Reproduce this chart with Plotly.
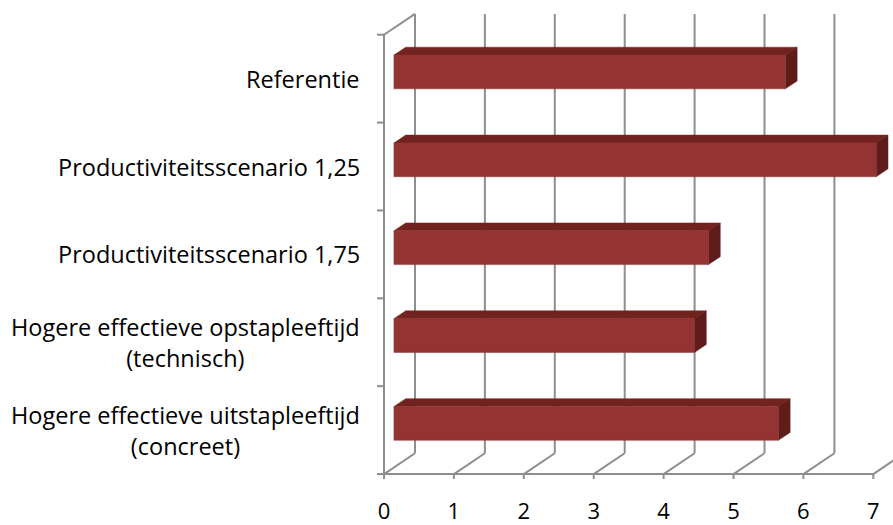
import plotly.graph_objects as go

# ---- data ----
categories = [
    "Referentie",
    "Productiviteitsscenario 1,25",
    "Productiviteitsscenario 1,75",
    "Hogere effectieve opstapleeftijd<br>(technisch)",
    "Hogere effectieve uitstapleeftijd<br>(concreet)",
]
values = [5.6, 6.9, 4.5, 4.3, 5.5]
x_ticks = [0, 1, 2, 3, 4, 5, 6, 7]

# ---- geometry / style ----
W, H = 893, 525
PX_X, PX_Y = 69.9, 88.6          # pixels per unit
L, R, T, B = 370, 0, 0, 40
X_ZERO_PX, Y_ZERO_PX = 384, 478
x_lo = -(X_ZERO_PX - L) / PX_X
x_hi = x_lo + (W - L - R) / PX_X
y_lo = -((H - B) - Y_ZERO_PX) / PX_Y
y_hi = y_lo + (H - B - T) / PX_Y

DX, DY = 31 / PX_X, 21 / PX_Y     # full depth offset
F1, F2 = 0.32, 0.70               # bar front/back depth fraction
BAR_H = 34 / PX_Y
N = len(categories)

GRID = "#8e8e8e"
FRONT = "#943432"
TOP = "#73231f"
SIDE = "#5e1c1a"
FONT = "Open Sans"
LABEL_RIGHT = (362 - L) / (W - L - R)   # paper x of label block right edge

fig = go.Figure()


def line(xs, ys, color=GRID, width=2):
    fig.add_trace(go.Scatter(x=xs, y=ys, mode="lines",
                             line=dict(color=color, width=width),
                             hoverinfo="skip", showlegend=False))


def poly(xs, ys, color):
    fig.add_trace(go.Scatter(x=xs + [xs[0]], y=ys + [ys[0]], mode="lines",
                             fill="toself", fillcolor=color,
                             line=dict(color=color, width=0.5),
                             hoverinfo="skip", showlegend=False))


# back wall gridlines
for k in x_ticks:
    line([k + DX, k + DX], [DY, N + DY])
# floor diagonals
for k in x_ticks:
    line([k, k + DX], [0, DY])
# floor front edge
line([x_ticks[0], x_ticks[-1]], [0, 0])
# bottom tick marks
for k in x_ticks:
    line([k, k], [0, -5 / PX_Y])
# left wall front edge + top diagonal
line([0, 0], [0, N])
line([0, DX], [N, N + DY])
# left tick marks at category boundaries
for i in range(N + 1):
    line([0, -7 / PX_X], [i, i])

# bars
for i, (cat, v) in enumerate(zip(categories, values)):
    yc = N - 0.5 - i
    yb = yc + F1 * DY - BAR_H / 2
    yt = yc + F1 * DY + BAR_H / 2
    xl = F1 * DX
    xr = v + F1 * DX
    ox, oy = (F2 - F1) * DX, (F2 - F1) * DY
    poly([xl, xr, xr + ox, xl + ox], [yt, yt, yt + oy, yt + oy], TOP)
    poly([xr, xr + ox, xr + ox, xr], [yb, yb + oy, yt + oy, yt], SIDE)
    poly([xl, xr, xr, xl], [yb, yb, yt, yt], FRONT)
    # category label (centered lines, right-anchored block)
    fig.add_annotation(x=LABEL_RIGHT, y=yc, xref="paper", yref="y", text=cat,
                       showarrow=False, xanchor="right", yanchor="middle",
                       align="center", font=dict(family=FONT, size=23.5, color="black"))

fig.update_layout(
    width=W, height=H,
    margin=dict(l=L, r=R, t=T, b=B),
    paper_bgcolor="white", plot_bgcolor="white",
    font=dict(family=FONT, size=22, color="black"),
    xaxis=dict(range=[x_lo, x_hi], showgrid=False, zeroline=False, showline=False,
               tickvals=x_ticks, ticktext=[str(k) for k in x_ticks],
               ticks="outside", ticklen=11, tickcolor="rgba(0,0,0,0)",
               fixedrange=True),
    yaxis=dict(range=[y_lo, y_hi], showgrid=False, zeroline=False, showline=False,
               showticklabels=False, fixedrange=True),
    showlegend=False,
)

fig.write_html("out.html")
